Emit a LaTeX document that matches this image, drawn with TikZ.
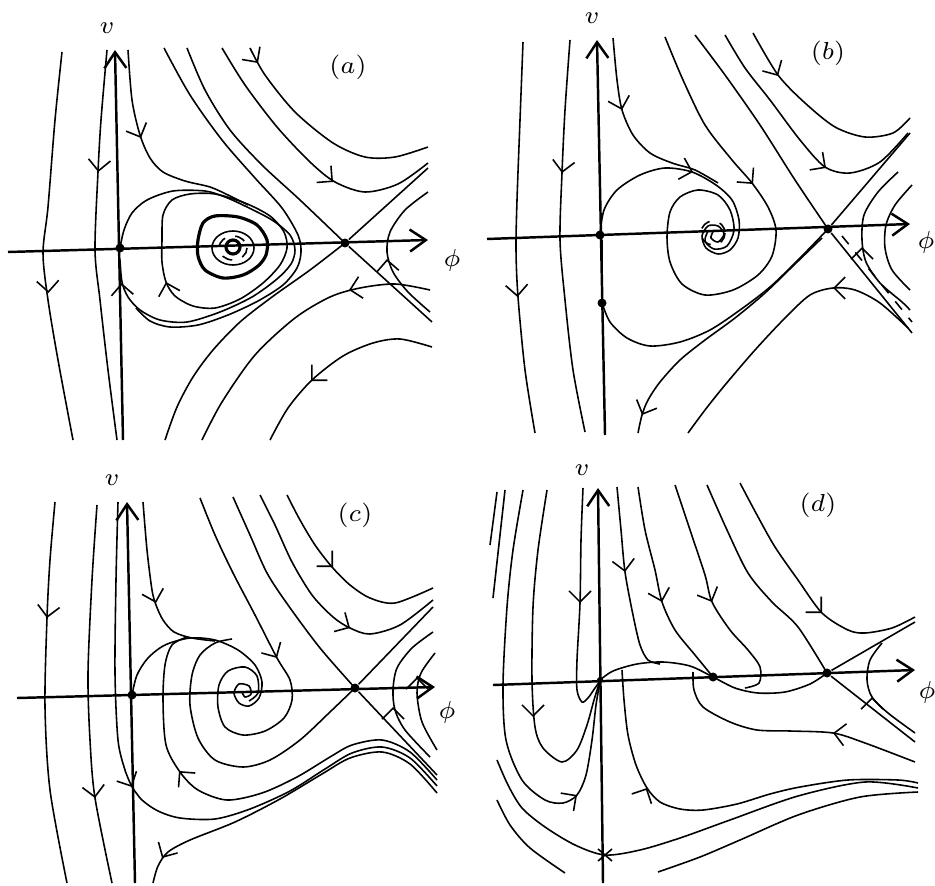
\documentclass[tikz,border=0pt]{standalone}
\usetikzlibrary{arrows.meta, decorations.markings, calc}
\begin{document}
\begin{tikzpicture}[x=0.1mm, y=-0.1mm,
    every node/.style={font=\scriptsize},
    traj/.style={line width=0.45pt},
    heavy/.style={line width=0.9pt},
    axis/.style={line width=0.7pt, -{Straight Barb[length=1.6mm,width=2.2mm]}},
    fixpt/.style={circle, fill, inner sep=0pt, minimum size=0.9mm},
    tipmark/.style={decorate, decoration={markings,
        mark=at position 1 with {\arrow{Straight Barb[length=1.1mm,width=2.2mm,line width=0.45pt]}}}}
]
\useasboundingbox[fill=white] (0,0) rectangle (935,886);

% ---------------- panel (a)
\draw[axis] (123,440) -- (115,50);
\draw[axis] (8,252) -- (428,240);
\node (va)   at (107,28)  {$v$};
\node (phia) at (452,260) {$\phi$};
\node (taga) at (348,67)  {$(a)$};
\node[fixpt] (a0) at (120,248) {};
\node[fixpt] (as) at (345,243) {};

\draw[traj] plot[smooth] coordinates {(62,52) (55,120) (48,207) (43,253) (48,300) (58,360) (73,440)};
\draw[traj] plot[smooth] coordinates {(107,50) (101,120) (98,172) (95,250) (100,300) (108,370) (117,440)};
\draw[traj] plot[smooth] coordinates {(128,50) (132,100) (140,135) (150,158) (163,172) (185,181) (210,187) (228,195) (248,205)};
% loops round the centre
\draw[traj] plot[smooth] coordinates {(120,248) (124,230) (132,213) (147,200) (173,191) (205,191) (225,197) (245,206) (272,220) (290,235) (295,250) (291,264) (277,279) (252,297) (220,312) (187,322) (160,320) (140,310) (128,297) (122,282) (120,260)};
\draw[traj] plot[smooth] coordinates {(164,48) (190,95) (222,140) (255,178) (282,208) (298,235) (301,252) (297,268) (283,285) (258,301) (228,315) (198,325) (170,327) (150,321) (136,308)};
\draw[traj] plot[smooth cycle] coordinates {(162,240) (163,215) (172,200) (190,194) (215,194) (245,203) (270,216) (284,232) (287,248) (280,265) (263,283) (240,299) (215,308) (193,306) (175,296) (166,282) (162,262)};
\draw[heavy] plot[smooth cycle] coordinates {(198,240) (203,223) (215,216) (238,217) (257,225) (267,240) (266,255) (258,266) (243,275) (223,278) (205,270) (198,256)};
\draw[traj] (233,248) ellipse [x radius=21, y radius=17];
\draw[traj, dashed] (233,248) ellipse [x radius=14, y radius=12];
\draw[heavy] (233,247) circle [radius=7];
% saddle and outer orbits
\draw[traj] plot[smooth] coordinates {(187,48) (205,90) (230,130) (262,165) (300,200) (345,243)};
\draw[traj] (as) -- (428,168);
\draw[traj] (as) -- (432,322);
\draw[traj] plot[smooth] coordinates {(345,243) (310,270) (272,297) (240,322) (213,350) (193,377) (177,407) (165,440)};
\draw[traj] plot[smooth] coordinates {(250,48) (265,75) (295,112) (333,143) (365,157) (395,157) (428,147)};
\draw[traj] plot[smooth] coordinates {(222,48) (245,85) (277,127) (310,162) (335,182) (365,192) (398,184) (428,163)};
\draw[traj] plot[smooth] coordinates {(428,192) (405,210) (390,232) (387,252) (393,272) (408,292) (430,312)};
\draw[traj] plot[smooth] coordinates {(202,440) (222,402) (255,355) (295,318) (330,297) (360,288) (395,284) (430,290)};
\draw[traj] plot[smooth] coordinates {(270,440) (288,408) (312,380) (343,356) (373,343) (400,339) (432,347)};
\path[tipmark] (48,286) -- (48.4,293);
\path[tipmark] (99,165) -- (98.3,172);
\path[tipmark] (138,131) -- (141,138);
\path[tipmark] (253,56) -- (258,63);
\path[tipmark] (326,176) -- (333,182);
\path[tipmark] (387.5,266) -- (387,259);
\path[tipmark] (168,289) -- (166,282);
\path[tipmark] (122,290) -- (121.5,283);
\path[tipmark] (356,288.5) -- (349,290);
\path[tipmark] (317,375) -- (311,381);

% ---------------- panel (b)
\draw[axis] (605,435) -- (597,40);
\draw[axis] (487,239) -- (910,224);
\node (vb)   at (592,18)  {$v$};
\node (phib) at (926,242) {$\phi$};
\node (tagb) at (828,53)  {$(b)$};
\node[fixpt] (b0) at (600,235) {};
\node[fixpt] (bl) at (602,303) {};
\node[fixpt] (bs) at (828,229) {};

\draw[traj] plot[smooth] coordinates {(523,42) (520,120) (517,200) (516,250) (518,297) (525,370) (535,433)};
\draw[traj] plot[smooth] coordinates {(570,40) (565,110) (562,173) (560,240) (565,300) (573,370) (585,432)};
\draw[traj] plot[smooth] coordinates {(613,38) (617,80) (622,110) (633,135) (650,153) (672,163) (695,170) (718,183)};
\draw[traj] plot[smooth] coordinates {(600,235) (604,210) (617,190) (640,175) (665,168) (692,172) (716,185) (732,200) (739,220) (738,238) (730,250) (718,254) (706,248) (702,236) (708,226) (718,226) (724,234) (718,242) (711,238) (713,232)};
\draw[traj] plot[smooth] coordinates {(665,37) (683,80) (705,125) (732,160) (752,183) (768,207) (776,230) (772,256) (758,275) (733,290) (705,295) (682,284) (670,262) (667,237) (670,212) (680,197) (698,190) (718,195) (730,210) (734,230) (727,246) (714,249) (705,241) (708,231)};
\draw[traj, dashed] (713,233) circle [radius=12];
\draw[traj] plot[smooth] coordinates {(695,35) (725,75) (760,125) (795,180) (828,229)};
\draw[traj] plot[smooth] coordinates {(725,35) (745,68) (770,100) (800,140) (825,167) (850,173) (880,162) (908,133)};
\draw[traj] plot[smooth] coordinates {(753,33) (778,75) (805,103) (835,127) (865,137) (893,133) (910,118)};
\draw[traj] (bs) -- (910,133);
\draw[traj] (bs) -- (912,333);
\draw[traj, dashed] (842,236) -- (912,322);
\draw[traj] plot[smooth] coordinates {(898,172) (878,192) (864,215) (862,240) (866,262) (880,283) (902,302) (910,310)};
\draw[traj] plot[smooth] coordinates {(912,185) (895,205) (886,225) (885,248) (892,270) (910,290)};
\draw[traj] plot[smooth] coordinates {(828,229) (800,258) (770,287) (740,310) (710,330) (680,342) (650,346) (627,338) (610,322) (602,303)};
\draw[traj] plot[smooth] coordinates {(822,238) (795,264) (765,293) (735,318) (705,340) (680,360) (660,382) (648,400) (642,415) (638,433)};
\draw[traj] plot[smooth] coordinates {(908,328) (880,303) (855,290) (833,288) (810,295) (785,318) (755,350) (725,385) (705,410) (688,433)};
\draw[traj] (bl) -- (602,240);
\path[tipmark] (517,290) -- (517.5,297);
\path[tipmark] (563,166) -- (562,173);
\path[tipmark] (620,103) -- (622,110);
\path[tipmark] (774,69) -- (778,76);
\path[tipmark] (819,163) -- (826,168);
\path[tipmark] (747,177) -- (753,184);
\path[tipmark] (862,254) -- (862,247);
\path[tipmark] (645,408) -- (642,415);
\path[tipmark] (840,288) -- (833,288);
\path[tipmark] (686,170) -- (693,172);

% ---------------- panel (c)
\draw[axis] (135,883) -- (127,502);
\draw[axis] (17,698) -- (435,687);
\node (vc)   at (112,480) {$v$};
\node (phic) at (447,712) {$\phi$};
\node (tagc) at (355,515) {$(c)$};
\node[fixpt] (c0) at (132,695) {};
\node[fixpt] (cs) at (355,688) {};

\draw[traj] plot[smooth] coordinates {(55,502) (50,560) (47,618) (45,707) (50,790) (67,883)};
\draw[traj] plot[smooth] coordinates {(97,505) (92,580) (88,673) (90,740) (95,798) (112,883)};
\draw[traj] plot[smooth] coordinates {(118,502) (116,580) (115,673) (118,740) (125,770) (132,787)};
\draw[traj] plot[smooth] coordinates {(143,502) (147,550) (152,590) (156,605) (163,620) (174,632) (192,638) (215,641)};
\draw[traj] plot[smooth] coordinates {(132,695) (137,675) (148,658) (165,645) (190,638) (215,640) (238,650) (255,665) (262,682) (259,698) (249,706) (239,703) (234,693) (239,684) (249,686) (251,694) (245,697) (242,692)};
\draw[traj] plot[smooth] coordinates {(200,498) (215,535) (233,573) (255,615) (277,658) (290,680) (292,700) (284,718) (265,731) (243,735) (225,727) (218,707) (219,685) (228,671) (245,667) (257,676) (258,693) (249,701)};
\draw[traj] plot[smooth] coordinates {(355,688) (330,712) (300,740) (270,760) (243,767) (215,760) (198,738) (190,705) (192,675) (200,655) (215,643) (232,639)};
\draw[traj] plot[smooth] coordinates {(187,637) (172,645) (165,665) (163,700) (166,745) (180,772) (198,790) (227,800) (262,793) (297,777) (330,757) (352,745) (382,740) (410,752) (437,780)};
\draw[traj] plot[smooth] coordinates {(132,787) (142,800) (158,811) (180,818) (215,819) (250,809) (290,791) (325,769) (352,753) (382,747) (410,758) (437,786)};
\draw[traj] plot[smooth] coordinates {(153,883) (158,866) (168,852) (190,840) (235,822) (280,799) (322,774) (350,758) (382,752) (410,764) (437,793)};
\draw[traj] plot[smooth] coordinates {(233,497) (250,535) (267,573) (288,605) (320,648) (355,688)};
\draw[traj] plot[smooth] coordinates {(287,495) (300,520) (315,545) (332,567) (350,585) (370,598) (395,603) (433,588)};
\draw[traj] plot[smooth] coordinates {(260,495) (275,525) (292,562) (312,595) (333,617) (350,628) (370,634) (400,625) (433,600)};
\draw[traj] (cs) -- (433,607);
\draw[traj] (cs) -- (437,775);
\draw[traj] plot[smooth] coordinates {(433,632) (412,648) (397,668) (393,690) (395,710) (405,730) (430,757)};
\draw[traj] plot[smooth] coordinates {(435,653) (421,673) (417,693) (422,722) (437,750)};
\path[tipmark] (48,611) -- (47,618);
\path[tipmark] (94,791) -- (95,798);
\path[tipmark] (154,596) -- (156,603);
\path[tipmark] (273,651) -- (277,658);
\path[tipmark] (327,561) -- (333,567);
\path[tipmark] (343,624) -- (350,628);
\path[tipmark] (393,714) -- (393,707);
\path[tipmark] (417,684) -- (417,677);
\path[tipmark] (185,778) -- (179,771);
\path[tipmark] (166,851) -- (162,858);
\path[tipmark] (129,781) -- (132,787);

% ---------------- panel (d)
\draw[axis] (603,883) -- (598,488);
\draw[axis] (493,685) -- (915,670);
\node (vd)   at (582,470) {$v$};
\node (phid) at (927,692) {$\phi$};
\node (tagd) at (818,505) {$(d)$};
\node[fixpt, minimum size=0.6mm] (d0) at (600,680) {};
\node[fixpt] (dm) at (713,677) {};
\node[fixpt] (ds) at (827,673) {};
\coordinate (dst) at (605,855);

\draw[traj] (490,545) -- (497,492);
\draw[traj] (493,598) -- (505,490);
\draw[traj] plot[smooth] coordinates {(523,490) (513,550) (507,607) (503,685) (506,740) (522,780) (545,800) (563,803) (577,795) (586,775) (592,740) (596,705) (600,682)};
\draw[traj] plot[smooth] coordinates {(547,490) (538,550) (533,607) (532,680) (535,727) (543,748) (562,762) (577,750) (587,725) (594,700) (599,684)};
\draw[traj] plot[smooth] coordinates {(583,488) (581,540) (580,603) (577,660) (577,690) (582,702) (588,698) (595,688) (600,681)};
\draw[traj] plot[smooth] coordinates {(600,680) (613,671) (637,664) (663,662) (690,666) (713,677) (735,688) (758,693) (785,692) (810,684) (827,673)};
\draw[traj] plot[smooth] coordinates {(617,487) (621,530) (625,572) (633,615) (640,645) (648,660) (660,664)};
\draw[traj] plot[smooth] coordinates {(638,487) (645,530) (655,570) (662,602) (675,630) (695,655) (713,677)};
\draw[traj] plot[smooth] coordinates {(675,485) (690,530) (705,575) (712,602) (730,630) (748,650) (760,667) (759,683) (745,688)};
\draw[traj] plot[smooth] coordinates {(707,485) (727,530) (748,573) (772,602) (798,627) (827,673)};
\draw[traj] plot[smooth] coordinates {(740,483) (757,515) (775,547) (798,580) (822,613) (848,630) (865,633) (892,628) (915,617)};
\draw[traj] (ds) -- (915,622);
\draw[traj] (ds) -- (915,742);
\draw[traj] plot[smooth] coordinates {(882,643) (870,660) (867,680) (872,697) (888,713) (915,733)};
\draw[traj] plot[smooth] coordinates {(693,672) (694,690) (703,707) (730,722) (757,730) (790,731) (833,733) (865,743) (915,762)};
\draw[traj] plot[smooth] coordinates {(622,670) (624,700) (628,735) (636,765) (647,788) (660,802) (680,809) (703,810) (737,804) (770,794) (800,787) (848,780) (898,780) (918,783)};
\draw[traj] plot[smooth] coordinates {(497,760) (508,785) (522,808) (545,827) (575,845) (605,855) (640,850) (680,838) (730,820) (798,796) (865,782) (918,788)};
\draw[traj] plot[smooth] coordinates {(497,800) (510,825) (530,848) (565,873)};
\draw[traj] plot[smooth] coordinates {(658,872) (700,857) (740,840) (798,815) (860,797) (918,792)};
\draw[traj] ($(dst)+(-7,-6)$) -- ($(dst)+(7,6)$);
\draw[traj] ($(dst)+(-7,6)$) -- ($(dst)+(7,-6)$);
\path[tipmark] (570,800) -- (577,795);
\path[tipmark] (533,710) -- (533,717);
\path[tipmark] (580,596) -- (580,603);
\path[tipmark] (624,565) -- (625,572);
\path[tipmark] (660,595) -- (662,602);
\path[tipmark] (709,595) -- (712,602);
\path[tipmark] (817,608) -- (822,613);
\path[tipmark] (872,704) -- (872,697);
\path[tipmark] (840,734) -- (833,733);
\path[tipmark] (644,794) -- (647,788);
\end{tikzpicture}
\end{document}
